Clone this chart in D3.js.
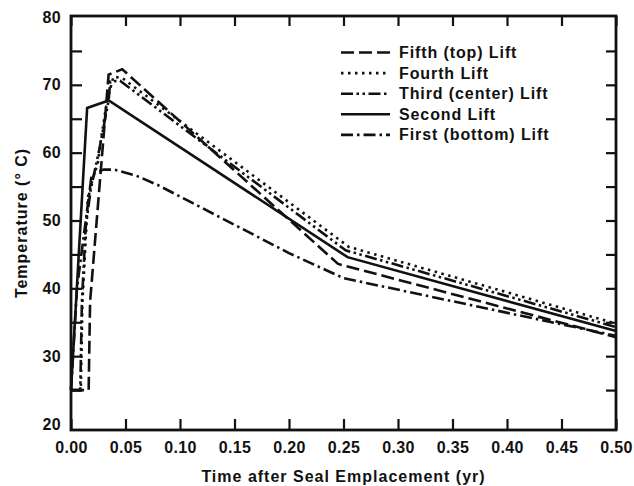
<!DOCTYPE html>
<html>
<head>
<meta charset="utf-8">
<script src="https://cdn.jsdelivr.net/npm/d3@7"></script>
<style>
  html, body { margin: 0; padding: 0; background: #fff; }
  svg text { font-family: "Liberation Sans", Arial, Helvetica, sans-serif; font-weight: bold; fill: #111; }
</style>
</head>
<body>
<svg id="chart" width="634" height="486"></svg>
<script>
// Time after seal emplacement (yr) vs. temperature (deg C) for each lift
const timeTicks = [0, 0.05, 0.10, 0.15, 0.20, 0.25, 0.30, 0.35, 0.40, 0.45, 0.50];
const tempTicks = [20, 30, 40, 50, 60, 70, 80];
const tempMinorTicks = [25, 35, 45, 55, 65, 75];

const fifthLift  = [[0, 25], [0.0162, 25], [0.0175, 38], [0.0345, 71.5], [0.047, 72.3], [0.245, 43.6], [0.5, 32.8]];
const fourthLift = [[0, 25], [0.009, 25], [0.0105, 38], [0.0155, 53.4], [0.0195, 55.9], [0.0245, 58.4], [0.028, 62.5], [0.033, 67.6], [0.039, 71.2], [0.047, 71.0], [0.255, 46.1], [0.5, 34.8]];
const thirdLift  = [[0, 25], [0.0085, 25], [0.010, 38], [0.0135, 49], [0.018, 54.5], [0.026, 60.5], [0.0345, 67.7], [0.036, 70.5], [0.045, 70.6], [0.252, 45.6], [0.5, 34.3]];
const secondLift = [[0, 25], [0.0148, 66.6], [0.0346, 67.7], [0.2537, 44.6], [0.5, 33.7]];
const firstLift  = [[0, 25], [0.0055, 40], [0.019, 56.8], [0.03, 57.5], [0.04, 57.5], [0.06, 56.6], [0.08, 55.2], [0.11, 52.7], [0.2, 45.2], [0.25, 41.5], [0.5, 33.0]];

const seriesNames = ["Fifth (top) Lift", "Fourth Lift", "Third (center) Lift", "Second Lift", "First (bottom) Lift"];
const seriesData = [fifthLift, fourthLift, thirdLift, secondLift, firstLift];
const seriesDash = ["13,5", "2.5,4.5", "12,3.5,2.5,3.5,2.5,3.5", null, "12,4,2.5,4"];

const svg = d3.select("#chart");
const frame = { left: 71, right: 616, top: 16, bottom: 430 };

const x = d3.scaleLinear().domain([0, 0.5]).range([frame.left, frame.right]);
const y = d3.scaleLinear().domain([20, 80]).range([424, 17]);

// plot frame
svg.append("rect")
  .attr("x", frame.left).attr("y", frame.top)
  .attr("width", frame.right - frame.left).attr("height", frame.bottom - frame.top)
  .attr("fill", "none").attr("stroke", "#111").attr("stroke-width", 2.8);

function styleAxis(g) {
  g.select(".domain").remove();
  g.selectAll(".tick line").attr("stroke", "#111").attr("stroke-width", 2.2);
  g.selectAll(".tick text").attr("font-size", 16).style("letter-spacing", "0.4px").attr("fill", "#111");
}

// bottom axis with labels
svg.append("g").attr("transform", `translate(0,${frame.bottom})`)
  .call(d3.axisBottom(x).tickValues(timeTicks).tickFormat(d3.format(".2f")).tickSize(-11).tickPadding(12))
  .call(styleAxis);
// top axis, ticks only
svg.append("g").attr("transform", `translate(0,${frame.top})`)
  .call(d3.axisTop(x).tickValues(timeTicks).tickFormat("").tickSize(-10))
  .call(styleAxis);
// left axis with labels
svg.append("g").attr("transform", `translate(${frame.left},0)`)
  .call(d3.axisLeft(y).tickValues(tempTicks.filter(v => v > 20 && v < 80)).tickFormat(d3.format("d")).tickSize(-11).tickPadding(10))
  .call(styleAxis);
svg.append("g").attr("transform", `translate(${frame.left},0)`)
  .call(d3.axisLeft(y).tickValues(tempTicks.filter(v => v === 20 || v === 80)).tickFormat(d3.format("d")).tickSize(0).tickPadding(10))
  .call(styleAxis);
svg.append("g").attr("transform", `translate(${frame.left},0)`)
  .call(d3.axisLeft(y).tickValues(tempMinorTicks).tickFormat("").tickSize(-11))
  .call(styleAxis);
// right axis, ticks only
svg.append("g").attr("transform", `translate(${frame.right},0)`)
  .call(d3.axisRight(y).tickValues(tempTicks.filter(v => v > 20 && v < 80).concat(tempMinorTicks)).tickFormat("").tickSize(-10))
  .call(styleAxis);

// axis titles
svg.append("text")
  .attr("x", (frame.left + frame.right) / 2).attr("y", 482)
  .attr("text-anchor", "middle").attr("font-size", 16).style("letter-spacing", "1px")
  .text("Time after Seal Emplacement (yr)");
svg.append("text")
  .attr("transform", `translate(27,223) rotate(-90)`)
  .attr("text-anchor", "middle").attr("font-size", 16).style("letter-spacing", "1px")
  .text("Temperature (° C)");

// curves
const line = d3.line().x(d => x(d[0])).y(d => y(d[1]));
seriesData.forEach((data, i) => {
  svg.append("path")
    .datum(data)
    .attr("d", line)
    .attr("fill", "none")
    .attr("stroke", "#111")
    .attr("stroke-width", 2.6)
    .attr("stroke-linejoin", "miter")
    .attr("stroke-dasharray", seriesDash[i]);
});

// legend
const legend = svg.append("g");
seriesNames.forEach((name, i) => {
  const cy = 52.5 + i * 20.6;
  legend.append("line")
    .attr("x1", 341).attr("x2", 390).attr("y1", cy).attr("y2", cy)
    .attr("stroke", "#111").attr("stroke-width", 2.6)
    .attr("stroke-dasharray", seriesDash[i]);
  legend.append("text")
    .attr("x", 399).attr("y", cy + 5.5)
    .attr("font-size", 16).style("letter-spacing", "0.9px")
    .text(name);
});
</script>
</body>
</html>
